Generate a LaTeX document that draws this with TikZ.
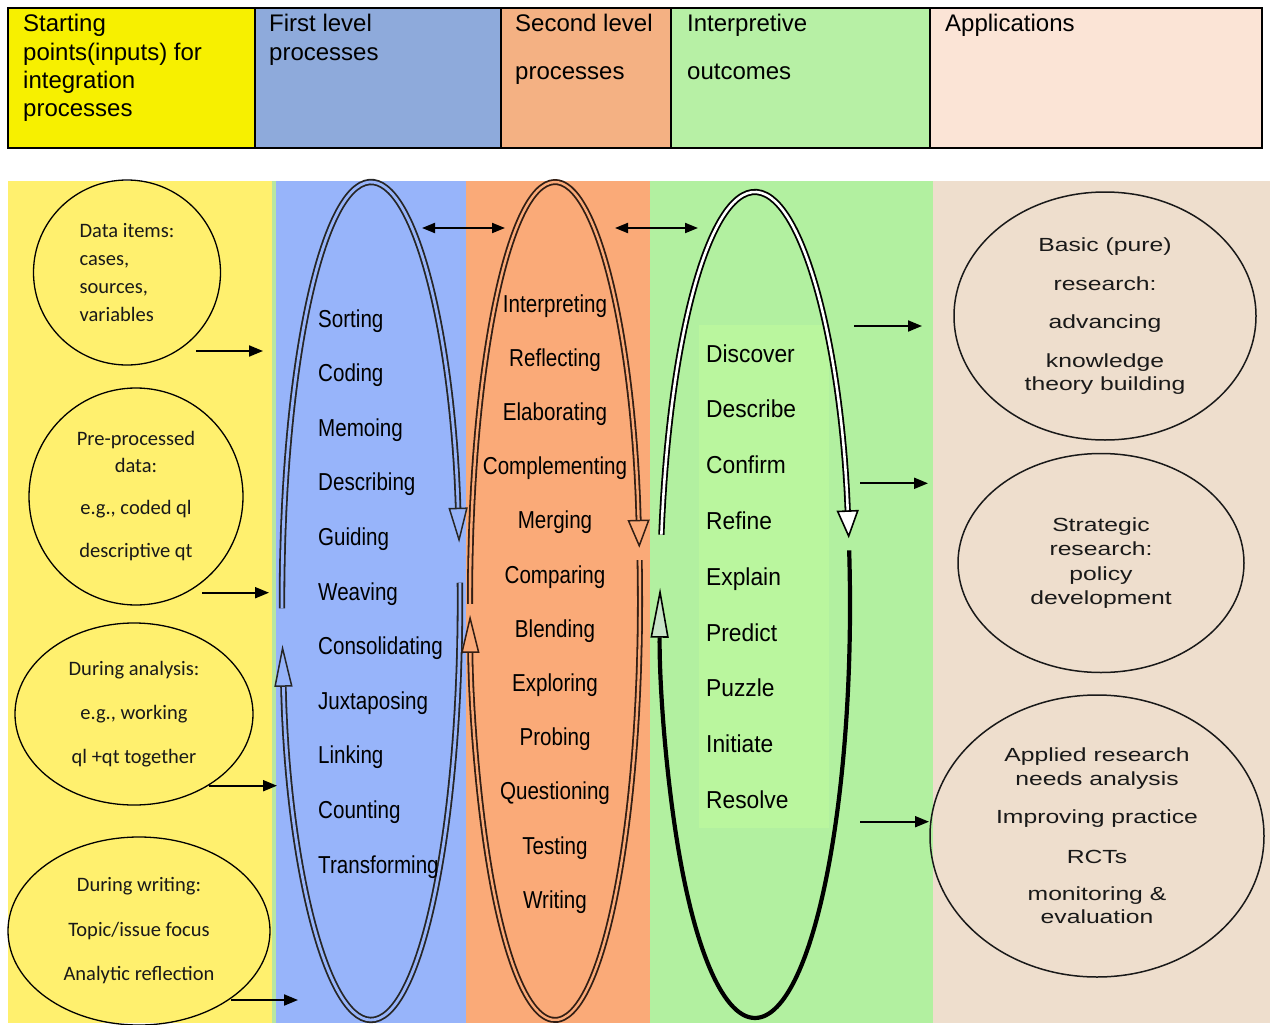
\documentclass[tikz,border=0pt]{standalone}
\usepackage{fontspec}
\setmainfont{Liberation Sans}
\newfontfamily\calfont{Carlito}
\newfontfamily\narrowfont[FakeStretch=0.84]{Liberation Sans}
\newfontfamily\outfont[FakeStretch=0.93]{Liberation Sans}
\newfontfamily\widefont[FakeStretch=1.3]{Liberation Sans}
\usetikzlibrary{arrows.meta,shapes.geometric}

\definecolor{hyel}{RGB}{247,240,0}
\definecolor{hblu}{RGB}{142,170,219}
\definecolor{horg}{RGB}{244,177,131}
\definecolor{hgrn}{RGB}{183,240,165}
\definecolor{hpnk}{RGB}{251,228,214}
\definecolor{myel}{RGB}{255,240,110}
\definecolor{mstrip}{RGB}{185,230,160}
\definecolor{mblu}{RGB}{151,180,250}
\definecolor{morg}{RGB}{250,170,120}
\definecolor{mgrn}{RGB}{178,240,160}
\definecolor{mgrnlt}{RGB}{186,246,158}
\definecolor{mbeige}{RGB}{238,222,205}
\definecolor{gtip}{RGB}{200,228,200}
\definecolor{brn}{RGB}{50,30,20}

\begin{document}
\begin{tikzpicture}[x=1pt, y=-1pt,
  every node/.style={inner sep=0pt},
  hcell/.style={draw=black, line width=2pt},
  htxt/.style={anchor=base west, align=left, font=\fontsize{24}{28.3}\selectfont},
  srcnode/.style={ellipse, draw=black, line width=1.3pt, text=black!90,
    font=\calfont\fontsize{20.5}{#1}\selectfont},
  appnode/.style={ellipse, draw=black!90, line width=1.5pt, align=center,
    text=black!90, font=\widefont\fontsize{19}{#1}\selectfont},
  flbl/.style={anchor=base west, text=black, font=\narrowfont\fontsize{24.5}{24}\selectfont},
  slbl/.style={anchor=base, text=black, font=\narrowfont\fontsize{24.5}{24}\selectfont},
  olbl/.style={anchor=base west, text=black, font=\outfont\fontsize{24.5}{24}\selectfont},
  feed/.style={line width=2pt, -{Triangle[length=14pt,width=11pt]}},
  link/.style={line width=2pt, {Triangle[length=13pt,width=10pt]}-{Triangle[length=13pt,width=10pt]}},
  bloop/.style={draw=black!85, double=mblu, line width=1.8pt, double distance=2.8pt},
  oloop/.style={draw=brn, double=morg, line width=1.8pt, double distance=2.4pt},
  gloop/.style={draw=black, double=white, line width=1.8pt, double distance=2.6pt}]
  \useasboundingbox (0,0) rectangle (1272,1025);

  % header row
  \filldraw[hcell, fill=hyel] (8,8) rectangle (255,148);
  \filldraw[hcell, fill=hblu] (255,8) rectangle (501,148);
  \filldraw[hcell, fill=horg] (501,8) rectangle (671,148);
  \filldraw[hcell, fill=hgrn] (671,8) rectangle (930,148);
  \filldraw[hcell, fill=hpnk] (930,8) rectangle (1262,148);
  % base of a multi-line node = last line
  \node[htxt] (hstart) at (23,116.6) {Starting\\points(inputs) for\\integration\\processes};
  \node[htxt] (hfirst) at (269,60) {First level\\processes};
  \node[htxt] (hsecond) at (515,80) {Second level\\[20pt]processes};
  \node[htxt] (hout) at (687,80) {Interpretive\\[20pt]outcomes};
  \node[htxt] (happ) at (945,31.7) {Applications};

  % bands
  \fill[myel] (8,181) rectangle (272,1023);
  \fill[mstrip] (272,181) rectangle (276,1023);
  \fill[mblu] (276,181) rectangle (466,1023);
  \fill[morg] (466,181) rectangle (650,1023);
  \fill[mgrn] (650,181) rectangle (933,1023);
  \fill[mbeige] (933,181) rectangle (1270,1023);
  \fill[mgrnlt] (699,325) rectangle (829,828);

  % starting points
  \node[srcnode=28.3, align=left, minimum width=187pt, minimum height=185pt] (src1) at (127,272.5)
    {Data items:\\cases,\\sources,\\variables};
  \node[srcnode=27, align=center, minimum width=214pt, minimum height=217pt] (src2) at (136,496.5)
    {Pre-processed\\data:\\[15pt]e.g., coded ql\\[16pt]descriptive qt};
  \node[srcnode=44, align=center, minimum width=238pt, minimum height=182pt] (src3) at (134,714)
    {During analysis:\\e.g., working\\ql +qt together};
  \node[srcnode=44.5, align=center, minimum width=262pt, minimum height=188pt] (src4) at (139,931)
    {During writing:\\Topic/issue focus\\Analytic reflection};

  % applications
  \node[appnode=23.3, minimum width=302pt, minimum height=248pt] (app1) at (1105,316)
    {Basic (pure)\\[16pt]research:\\[14.7pt]advancing\\[15.4pt]knowledge\\theory building};
  \node[appnode=24.5, minimum width=286pt, minimum height=219pt] (app2) at (1101,563)
    {Strategic\\research:\\policy\\development};
  \node[appnode=23.5, minimum width=334pt, minimum height=282pt] (app3) at (1097,836)
    {Applied research\\needs analysis\\[14.7pt]Improving practice\\[16.5pt]RCTs\\[13pt]monitoring \&\\evaluation};

  % loops
  \draw[bloop, -{Triangle[length=35pt,width=19pt,line width=1.5pt,fill=mblu]}]
    ({371+89*cos(181)},{601-419*sin(181)}) arc[start angle=181, end angle=8, x radius=89pt, y radius=419pt];
  \draw[bloop, -{Triangle[length=42pt,width=18pt,line width=1.5pt,fill=mblu]}]
    ({371+89*cos(2.5)},{601-419*sin(2.5)}) arc[start angle=2.5, end angle=-174, x radius=89pt, y radius=419pt];
  \draw[oloop, -{Triangle[length=28pt,width=22pt,line width=1.5pt,fill=morg]}]
    ({555+85*cos(180.4)},{601-419*sin(180.4)}) arc[start angle=180.4, end angle=7.3, x radius=85pt, y radius=419pt];
  \draw[oloop, -{Triangle[length=38pt,width=18pt,line width=1.5pt,fill=morg]}]
    ({555+85*cos(5.6)},{601-419*sin(5.6)}) arc[start angle=5.6, end angle=-178.1, x radius=85pt, y radius=419pt];
  \draw[gloop, -{Triangle[length=28pt,width=22pt,line width=1.6pt,fill=white]}]
    ({755+95*cos(170.2)},{605-413*sin(170.2)}) arc[start angle=170.2, end angle=9.3, x radius=95pt, y radius=413pt];
  \draw[line width=4.2pt, -{Triangle[length=50pt,width=18pt,line width=1.6pt,fill=gtip]}]
    ({755+95*cos(7.6)},{605-413*sin(7.6)}) arc[start angle=7.6, end angle=-182.4, x radius=95pt, y radius=413pt];

  % process words
  \foreach \w [count=\i] in {Sorting,Coding,Memoing,Describing,Guiding,Weaving,
      Consolidating,Juxtaposing,Linking,Counting,Transforming}
    \node[flbl] (first\i) at (318,{327+54.6*(\i-1)}) {\w};
  \foreach \w [count=\i] in {Interpreting,Reflecting,Elaborating,Complementing,Merging,
      Comparing,Blending,Exploring,Probing,Questioning,Testing,Writing}
    \node[slbl] (second\i) at (555,{312+54.2*(\i-1)}) {\w};
  \foreach \w [count=\i] in {Discover,Describe,Confirm,Refine,Explain,Predict,Puzzle,
      Initiate,Resolve}
    \node[olbl] (out\i) at (706,{362+55.8*(\i-1)}) {\w};

  % arrows
  \foreach \a/\b/\y [count=\i] in {196/263/351, 202/269/592.7, 209/277/785.7, 231/298/1000,
      854/922/326, 860/928/483.3, 860/929/821.7} {
    \coordinate (ft\i) at (\a,\y);
    \coordinate (hd\i) at (\b,\y);
    \draw[feed] (ft\i) -- (hd\i);
  }
  \coordinate (lk1) at (422,228);
  \coordinate (lk2) at (505,228);
  \coordinate (lk3) at (615,228);
  \coordinate (lk4) at (698,228);
  \draw[link] (lk1) -- (lk2);
  \draw[link] (lk3) -- (lk4);
\end{tikzpicture}
\end{document}
